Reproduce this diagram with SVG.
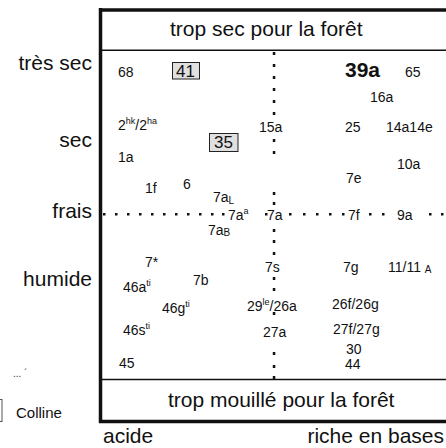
<svg xmlns="http://www.w3.org/2000/svg" width="446" height="448" viewBox="0 0 446 448">
<style>
text{font-family:"Liberation Sans",Arial,sans-serif;fill:#111}
.big{font-size:21px}
.s{font-size:14px}
.b{font-size:17px}
.sup{font-size:9px}
.sub{font-size:10px}
.frame{fill:none;stroke:#111}
.box{fill:#e0e0e0;stroke:#222;stroke-width:1}
.dots{fill:#111}
</style>
<rect width="446" height="448" fill="#fff"/>
<g id="frame">
<line class="frame" x1="100.5" y1="8" x2="100.5" y2="423" stroke-width="3.5"/>
<line class="frame" x1="99" y1="10" x2="446" y2="10" stroke-width="3.5"/>
<line class="frame" x1="100" y1="50.3" x2="446" y2="50.3" stroke-width="1.6"/>
<line class="frame" x1="100" y1="379.5" x2="446" y2="379.5" stroke-width="1.6"/>
<line class="frame" x1="99" y1="421.5" x2="446" y2="421.5" stroke-width="3.5"/>
</g>
<g id="connectors">
<path class="dots" d="M272.8 52h2.5v3h-2.5z M272.8 64h2.5v3h-2.5z M272.8 76h2.5v3h-2.5z M272.8 88h2.5v3h-2.5z M272.8 100h2.5v3h-2.5z M272.8 112h2.5v3h-2.5z M272.8 139h2.5v3h-2.5z M272.8 151h2.5v3h-2.5z M272.8 192h2.5v3h-2.5z M272.8 202h2.5v3h-2.5z M272.8 229h2.5v3h-2.5z M272.8 240h2.5v3h-2.5z M272.8 252h2.5v3h-2.5z M272.8 277h2.5v3h-2.5z M272.8 288h2.5v3h-2.5z M272.8 312h2.5v3h-2.5z M272.8 352h2.5v3h-2.5z M272.8 365h2.5v3h-2.5z M272.8 376h2.5v3h-2.5z"/>
<path class="dots" d="M103 213h2.5v2.5h-2.5z M115 213h2.5v2.5h-2.5z M127 213h2.5v2.5h-2.5z M139 213h2.5v2.5h-2.5z M151 213h2.5v2.5h-2.5z M163 213h2.5v2.5h-2.5z M175 213h2.5v2.5h-2.5z M187 213h2.5v2.5h-2.5z M199 213h2.5v2.5h-2.5z M211 213h2.5v2.5h-2.5z M222 213h2.5v2.5h-2.5z M265 213h2.5v2.5h-2.5z M289 213h2.5v2.5h-2.5z M303 213h2.5v2.5h-2.5z M316 213h2.5v2.5h-2.5z M329 213h2.5v2.5h-2.5z M342 213h2.5v2.5h-2.5z M369 213h2.5v2.5h-2.5z M382 213h2.5v2.5h-2.5z M429 213h2.5v2.5h-2.5z M441 213h2.5v2.5h-2.5z"/>
</g>
<g id="header-top"><text class="big" x="170" y="36">trop sec pour la forêt</text></g>
<g id="header-bottom"><text class="big" x="168" y="407">trop mouillé pour la forêt</text></g>
<g id="axis-labels">
<text class="big" x="92" y="70" text-anchor="end">très sec</text>
<text class="big" x="92" y="147" text-anchor="end">sec</text>
<text class="big" x="92" y="218" text-anchor="end">frais</text>
<text class="big" x="92" y="286" text-anchor="end">humide</text>
<text class="big" x="103" y="443">acide</text>
<text class="big" x="444" y="443" text-anchor="end">riche en bases</text>
</g>
<g id="legend">
<text x="13" y="377" style="font-size:10px;fill:#333">... ´</text>
<rect x="-30" y="399.5" width="32" height="22" fill="#fff" stroke="#555" stroke-width="1"/>
<text x="16" y="418" style="font-size:15px">Colline</text>
</g>
<g id="n68"><text class="s" x="118" y="77">68</text></g>
<g id="n41"><rect class="box" x="172.5" y="62.5" width="27" height="16.5"/><text class="b" x="176" y="77">41</text></g>
<g id="n39a"><text x="345" y="77" style="font-size:21px;font-weight:bold">39a</text></g>
<g id="n65"><text class="s" x="405" y="77">65</text></g>
<g id="n16a"><text class="s" x="370" y="102">16a</text></g>
<g id="n2hk"><text class="s" x="118" y="130">2<tspan class="sup" dy="-6">hk</tspan><tspan dy="6">/2</tspan><tspan class="sup" dy="-6">ha</tspan></text></g>
<g id="n15a"><text class="s" x="259" y="132">15a</text></g>
<g id="n25"><text class="s" x="345" y="132">25</text></g>
<g id="n14a14e"><text class="s" x="386" y="132">14a14e</text></g>
<g id="n35"><rect class="box" x="209.5" y="133.5" width="28.5" height="18"/><text class="b" x="214" y="148">35</text></g>
<g id="n1a"><text class="s" x="118" y="162">1a</text></g>
<g id="n10a"><text class="s" x="397" y="169">10a</text></g>
<g id="n7e"><text class="s" x="346" y="183">7e</text></g>
<g id="n1f"><text class="s" x="145" y="193">1f</text></g>
<g id="n6"><text class="s" x="183" y="189">6</text></g>
<g id="n7aL"><text class="s" x="213" y="202">7a<tspan class="sub" dy="2">L</tspan></text></g>
<g id="n7aa"><text class="s" x="228" y="220">7a<tspan class="sup" dy="-6">a</tspan></text></g>
<g id="n7a"><text class="s" x="267" y="220">7a</text></g>
<g id="n7f"><text class="s" x="348" y="220">7f</text></g>
<g id="n9a"><text class="s" x="397" y="220">9a</text></g>
<g id="n7aB"><text class="s" x="208" y="235">7a<tspan class="sub" dy="1">B</tspan></text></g>
<g id="n7star"><text class="s" x="145" y="267">7*</text></g>
<g id="n7s"><text class="s" x="265" y="272">7s</text></g>
<g id="n7g"><text class="s" x="343" y="272">7g</text></g>
<g id="n11"><text class="s" x="388" y="272">11/11 <tspan class="sub" dy="1">A</tspan></text></g>
<g id="n7b"><text class="s" x="193" y="285">7b</text></g>
<g id="n46a"><text class="s" x="123" y="292">46a<tspan class="sup" dy="-6">ti</tspan></text></g>
<g id="n46g"><text class="s" x="162" y="313">46g<tspan class="sup" dy="-6">ti</tspan></text></g>
<g id="n29le"><text class="s" x="247" y="311">29<tspan class="sup" dy="-6">le</tspan><tspan dy="6">/26a</tspan></text></g>
<g id="n26f"><text class="s" x="332" y="309">26f/26g</text></g>
<g id="n46s"><text class="s" x="123" y="335">46s<tspan class="sup" dy="-6">ti</tspan></text></g>
<g id="n27a"><text class="s" x="263" y="337">27a</text></g>
<g id="n27f"><text class="s" x="333" y="334">27f/27g</text></g>
<g id="n30"><text class="s" x="346" y="354">30</text></g>
<g id="n44"><text class="s" x="345" y="369">44</text></g>
<g id="n45"><text class="s" x="119" y="368">45</text></g>
</svg>
